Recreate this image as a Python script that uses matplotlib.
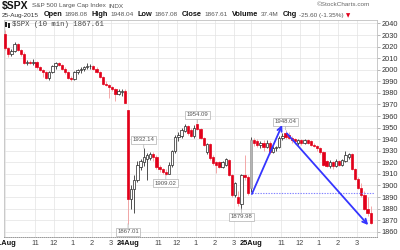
import numpy as np
import matplotlib
matplotlib.use("Agg")
import matplotlib.pyplot as plt
from matplotlib.patches import Rectangle

# 10-minute bars, (open, high, low, close), 39 per session
aug21 = [
    (2031, 2034, 2017, 2019), (2019, 2020, 2011, 2014), (2014, 2018, 2012, 2016),
    (2016, 2024, 2015, 2022), (2022, 2023, 2016, 2017), (2017, 2018, 2012, 2014),
    (2014, 2015, 2005, 2006), (2006, 2008, 2004, 2007), (2007, 2008, 2005, 2006),
    (2006, 2009, 2004, 2007), (2007, 2007.5, 2001, 2002), (2002, 2003, 1999, 2000),
    (2000, 2001, 1994, 1998), (1998, 1999, 1992, 1993), (1993, 1999, 1991, 1998),
    (1998, 2004, 1997, 2003), (2003, 2007, 2001, 2006), (2006, 2007, 2003, 2004),
    (2004, 2005, 2000, 2001), (2001, 2002, 1996, 1998), (1998, 1999, 1992, 1993),
    (1993, 1995, 1990, 1992), (1992, 1999, 1991, 1998), (1998, 2001, 1996, 2000),
    (2000, 2002, 1997, 2001), (2001, 2003, 1999, 2002), (2002, 2006, 2001, 2003),
    (2003, 2005, 2001, 2003.5), (2003.5, 2004, 2000, 2001), (2001, 2002, 1997, 1998),
    (1998, 1999, 1993, 1994), (1994, 1995, 1987, 1988), (1988, 1990, 1986, 1987),
    (1987, 1988, 1976, 1985), (1985, 1986, 1982, 1983), (1983, 1984, 1973, 1979),
    (1979, 1983, 1978, 1982), (1981, 1983, 1977, 1982), (1982, 1983, 1970.9, 1971),
]
aug24 = [
    (1965, 1965.2, 1867.01, 1888), (1888, 1900, 1880, 1897), (1897, 1909, 1876, 1905),
    (1905, 1921, 1903, 1918), (1916, 1923, 1913, 1921), (1920, 1932.14, 1917, 1925),
    (1923, 1928, 1905, 1926), (1924, 1929, 1922, 1927), (1927, 1929, 1921, 1925),
    (1925, 1926, 1914, 1916), (1916, 1918, 1912, 1914), (1914, 1915, 1910, 1912),
    (1912, 1914, 1909.02, 1910), (1910, 1920, 1909.5, 1918), (1918, 1931, 1916, 1930),
    (1930, 1944, 1928, 1942), (1942, 1946, 1938, 1944), (1943, 1950, 1941, 1948),
    (1947, 1953, 1946, 1951), (1951, 1952, 1944, 1945), (1948, 1950, 1942, 1943),
    (1943, 1952, 1941, 1950), (1953, 1954.09, 1948, 1949), (1949, 1950, 1940, 1941),
    (1941, 1942, 1934, 1935), (1929, 1937, 1927, 1936), (1936, 1937, 1922, 1924),
    (1925, 1926, 1918, 1919), (1920, 1921, 1911, 1918), (1920, 1921, 1915, 1916),
    (1916, 1921, 1915, 1920), (1918, 1924, 1917, 1923), (1922, 1923, 1908, 1909),
    (1909, 1910, 1890, 1892), (1892, 1903, 1890, 1902), (1890, 1895, 1882, 1885),
    (1884, 1910, 1879.98, 1909), (1909, 1926, 1905, 1907), (1907, 1909, 1892, 1893.21),
]
aug25 = [
    (1898.08, 1942, 1894, 1939), (1939, 1941, 1934, 1937), (1938, 1940, 1933, 1935),
    (1935, 1938, 1932, 1937), (1937, 1939, 1930, 1933), (1933, 1939, 1932, 1937),
    (1937, 1938, 1927, 1929), (1929, 1934, 1928, 1932), (1932, 1934, 1930, 1933),
    (1933, 1943, 1932, 1941), (1941, 1945, 1939, 1943), (1945, 1948.04, 1940, 1942),
    (1944, 1946, 1940, 1941), (1941, 1943, 1937, 1939), (1940, 1941, 1936, 1938),
    (1937, 1940, 1935, 1939), (1939, 1940, 1935, 1937), (1937, 1940, 1936, 1939),
    (1939, 1940, 1936, 1937), (1938, 1939, 1934, 1935), (1935, 1937, 1933, 1934),
    (1934, 1935, 1930, 1932), (1932, 1933, 1927, 1929), (1929, 1930, 1917, 1918),
    (1921, 1922, 1916, 1917), (1917, 1922, 1915, 1920), (1920, 1921, 1914, 1917),
    (1917, 1923, 1916, 1921), (1921, 1922, 1917, 1918), (1918, 1923, 1917, 1922),
    (1921, 1930, 1920, 1926), (1925, 1928, 1923, 1927), (1927, 1928, 1913, 1914),
    (1914, 1915, 1905, 1906), (1906, 1907, 1897, 1898), (1898, 1902, 1890, 1892),
    (1892, 1895, 1879, 1880), (1880, 1890, 1874, 1876), (1876, 1882, 1867.08, 1867.61),
]

day_labels = ["21Aug", "24Aug", "25Aug"]
hour_labels = ["11", "12", "1", "2", "3"]
hour_bars = [9.5, 15.5, 21.5, 27.5, 33.5]   # bars after the 9:30 open
bars_per_day = 39

# labelled swing points: bar index, price, label above?
swing_bars = [39, 44, 51, 61, 75, 89]
swing_prices = [1867.01, 1932.14, 1909.02, 1954.09, 1879.98, 1948.04]
swing_above = [False, True, False, True, False, True]

# hand-drawn annotations: prior close line and two trend arrows
prior_close = 1893.21
arrow_starts = [(78.3, 1892.6), (89.4, 1945.0)]
arrow_ends = [(87.9, 1952.2), (115.2, 1865.8)]

# quote header (label, value) pairs
quote_fields = [("Open", "1898.08"), ("High", "1948.04"), ("Low", "1867.08"),
                ("Close", "1867.61"), ("Volume", "37.4M"), ("Chg", "-25.60 (-1.35%)")]

yticks = np.arange(1860, 2041, 10)

ohlc = np.array(aug21 + aug24 + aug25, dtype=float)
o, h, l, c = ohlc.T
x = np.arange(len(ohlc))
up = c >= o

RED = "#e2001a"
fig = plt.figure(figsize=(4, 2.5), dpi=100)
ax = fig.add_axes([0.01, 0.0508, 0.9325, 0.8712])

# wicks
ax.vlines(x[up], l[up], h[up], color="#333333", lw=0.6, zorder=2)
ax.vlines(x[~up], l[~up], h[~up], color="#f29a9a", lw=0.6, zorder=2)
# bodies
lo = np.minimum(o, c)
hgt = np.maximum(np.abs(c - o), 0.6)
fc = np.where(up, "white", RED)
ec = np.where(up, "#222222", RED)
fc[bars_per_day * 2] = "#b4b4b4"   # gap-up open bar is drawn grey
ec[bars_per_day * 2] = "#999999"
ax.bar(x, hgt, bottom=lo, width=0.72, color=fc, edgecolor=ec, linewidth=0.5, zorder=3)

# swing labels
for b, p, above in zip(swing_bars, swing_prices, swing_above):
    ax.annotate(f"{p:.2f}", xy=(b, p), xytext=(0, 6 if above else -6),
                textcoords="offset points", ha="center", va="center",
                fontsize=4.3, color="#555555", family="Liberation Sans",
                bbox=dict(boxstyle="square,pad=0.25", fc="white", ec="#b0b0b0", lw=0.5),
                arrowprops=dict(arrowstyle="-", color="#b0b0b0", lw=0.5,
                                shrinkA=0, shrinkB=0), zorder=5)

ax.hlines(prior_close, arrow_starts[0][0], len(ohlc), colors="#8080ff",
          linestyles=(0, (1.2, 1.2)), lw=0.8, zorder=4)
for s, e in zip(arrow_starts, arrow_ends):
    ax.annotate("", xy=e, xytext=s,
                arrowprops=dict(arrowstyle="->", color="#3535ff", lw=1.3,
                                mutation_scale=8, shrinkA=0, shrinkB=0), zorder=6)

# axes, ticks, grid
ax.set_xlim(-0.35, 118)
ax.set_ylim(1855.2, 2043.4)
ax.yaxis.tick_right()
ax.set_yticks(yticks)
ax.set_yticklabels([str(v) for v in yticks], fontsize=5.3, color="#333333",
                   family="Liberation Sans")
ax.tick_params(axis="y", length=2.5, width=0.5, color="#999999", pad=1)

xt, xl = [], []
for d, name in enumerate(day_labels):
    xt.append(d * bars_per_day)
    xl.append(name)
    for hb, hl in zip(hour_bars, hour_labels):
        xt.append(d * bars_per_day + hb)
        xl.append(hl)
ax.set_xticks(xt)
ax.set_xticklabels(xl, fontsize=5.3, color="#444444", family="Liberation Sans")
for t in ax.get_xticklabels():
    if t.get_text() in day_labels:
        t.set_fontweight("bold")
        t.set_color("#111111")
ax.tick_params(axis="x", length=0, pad=2)
ax.grid(color="#e3e3e3", lw=0.5, zorder=0)
ax.set_axisbelow(True)
for side in ["left", "top", "right"]:
    ax.spines[side].set_color("#c0c0c0")
    ax.spines[side].set_linewidth(0.6)
ax.spines["bottom"].set_color("#888888")
ax.spines["bottom"].set_linestyle((0, (1, 1.5)))
ax.spines["bottom"].set_linewidth(0.6)

# in-chart legend
ax.add_patch(Rectangle((0.004, 0.965), 0.004, 0.022, transform=ax.transAxes,
                       fc="#222222", ec="none", zorder=7))
ax.add_patch(Rectangle((0.010, 0.962), 0.006, 0.024, transform=ax.transAxes,
                       fc="#222222", ec="none", zorder=7))
ax.text(0.022, 0.976, "$SPX (10 min) 1867.61", transform=ax.transAxes,
        fontsize=5.2, color="#444444", family="Liberation Mono", va="center", zorder=7)

# header: pieces laid out left to right, each placed after the previous one
renderer = fig.canvas.get_renderer()

def hdr(px, py, s, size=4.6, bold=False, color="#555555", family="Liberation Sans"):
    t = fig.text(px / 400, 1 - py / 250, s, fontsize=size, color=color, family=family,
                 fontweight="bold" if bold else "normal", ha="left", va="center")
    return px + t.get_window_extent(renderer).width

nx = hdr(2, 5.5, "$SPX", size=7.5, bold=True, color="#111111")
nx = hdr(nx + 3, 6, "S&P 500 Large Cap Index")
hdr(nx + 3, 6, "INDX")
hdr(317, 4.5, "\u00a9StockCharts.com", color="#666666")

nx = hdr(2, 15, "25-Aug-2015", color="#333333")
for lab, val in quote_fields:
    nx = hdr(nx + 4.5, 15, lab, size=5.3, bold=True, color="#111111")
    nx = hdr(nx + 2, 15, val)
hdr(nx + 2, 15.5, "\u25bc", size=4, color=RED, family="DejaVu Sans")

fig.savefig("out.png", dpi=100)
